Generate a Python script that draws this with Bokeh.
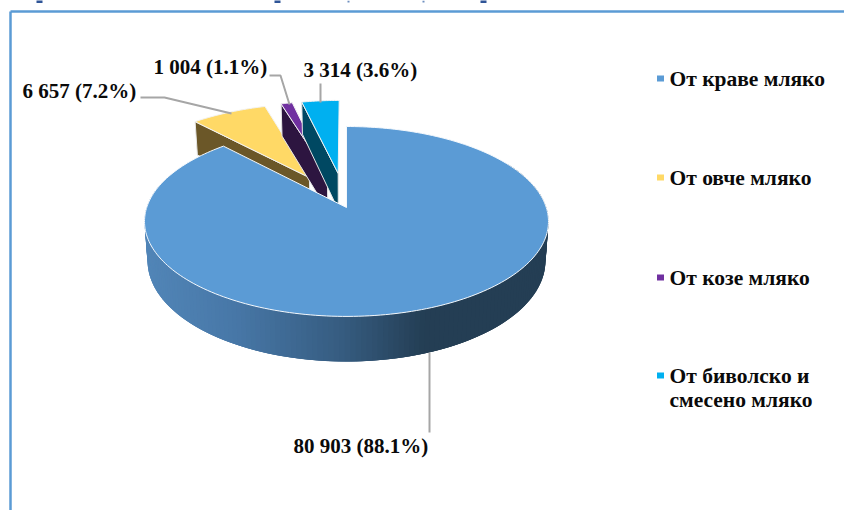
import math
from bokeh.plotting import figure
from bokeh.embed import file_html
from bokeh.resources import INLINE
from bokeh.core.properties import value

categories = ["От краве мляко", "От овче мляко", "От козе мляко", "От биволско и\nсмесено мляко"]
amounts = [80903, 6657, 1004, 3314]
shares = ["88.1%", "7.2%", "1.1%", "3.6%"]
labels = ["80 903 (88.1%)", "6 657 (7.2%)", "1 004 (1.1%)", "3 314 (3.6%)"]
top_colors = ["#5B9BD5", "#FFD966", "#7030A0", "#00B0F0"]
wall_colors = ["#2F4F6F", "#6B5728", "#2D1540", "#004862"]
explode = [0.0, 0.39, 0.39, 0.39]

# perspective pie geometry, screen pixels
OX, OY = 346.0, 207.0
C, B, K, H = 199.8, 92.9, 0.147, 38.5
SHRINK = 0.985
SERIF = value("Liberation Serif")


def project(u, v, depth=0.0):
    w = 1 + K * v
    s = SHRINK if depth else 1.0
    return OX + s * C * u / w, OY + (-B * v + depth) / w


def rim(a0, a1, off, n, depth=0.0):
    out = []
    for i in range(n + 1):
        a = math.radians(a0 + (a1 - a0) * i / n)
        out.append(project(off[0] + math.sin(a), off[1] + math.cos(a), depth))
    return out


p = figure(width=844, height=510, x_range=(0, 844), y_range=(510, 0), output_backend="svg",
           toolbar_location=None, min_border=0, outline_line_color=None)
p.axis.visible = False
p.grid.visible = False

# the cut-off title: only unreadable feet of a few letters reach the picture
p.rect([39, 277, 483], [1, 1, 1], width=6, height=3, fill_color="#2F5597", line_color=None)
p.rect([348, 423], [1, 1], width=2, height=2, fill_color="#6F8FC0", line_color=None)

# frame of the surrounding slide
p.line([10, 10], [510, 11], line_color="#5B9BD5", line_width=2.5)
p.line([10, 844], [11, 11], line_color="#5B9BD5", line_width=2.5)

total = sum(amounts)
angles = []
start = 0.0
for a in amounts:
    angles.append((start, start + 360.0 * a / total))
    start += 360.0 * a / total

offs = []
for (a0, a1), d in zip(angles, explode):
    m = math.radians((a0 + a1) / 2)
    offs.append((d * math.sin(m), d * math.cos(m)))

# small slices: side wall then top
for i in [1, 2, 3]:
    a0, a1 = angles[i]
    off = offs[i]
    o_top = project(off[0] + math.sin(math.radians(a0)), off[1] + math.cos(math.radians(a0)))
    o_bot = project(off[0] + math.sin(math.radians(a0)), off[1] + math.cos(math.radians(a0)), H)
    ap_top = project(*off)
    ap_bot = project(off[0], off[1], H)
    p.patch([o_top[0], ap_top[0], ap_bot[0], o_bot[0]], [o_top[1], ap_top[1], ap_bot[1], o_bot[1]],
            fill_color=wall_colors[i], line_color="#E6E6E6", line_width=1)
    r = rim(a0, a1, off, 24)
    xs = [ap_top[0]] + [q[0] for q in r]
    ys = [ap_top[1]] + [q[1] for q in r]
    p.patch(xs, ys, fill_color=top_colors[i], line_color="#F2F2F2", line_width=1)

# blue slice: shaded wall as overlapping strips, painted left to right
stops = [(143, (82, 134, 184)), (230, (72, 120, 168)), (340, (54, 92, 128)), (423, (36, 62, 84)), (548, (36, 62, 84))]


def shade(x):
    for (x0, c0), (x1, c1) in zip(stops, stops[1:]):
        if x <= x1:
            t = max(0.0, (x - x0) / (x1 - x0))
            return "#%02x%02x%02x" % tuple(int(c0[j] + (c1[j] - c0[j]) * t) for j in range(3))
    return "#243e54"


a0, a1 = angles[0]
N = 170
top = rim(290, 60, (0, 0), N)
bot = rim(290, 60, (0, 0), N, H)
for i in range(N):
    j = min(i + 3, N)
    xs = [top[i][0], top[j][0], bot[j][0], bot[i][0]]
    ys = [top[i][1], top[j][1], bot[j][1], bot[i][1]]
    p.patch(xs, ys, fill_color=shade(top[i][0]), line_color=None)

r = rim(a0, a1, (0, 0), 240)
p.patch([OX] + [q[0] for q in r], [OY] + [q[1] for q in r], fill_color=top_colors[0],
        line_color="#F4F8FC", line_width=1)

# leader lines
leaders_x = [[429, 429], [140, 164, 231], [269, 280, 289], [320, 320]]
leaders_y = [[352, 432], [97, 97, 113], [75, 75, 104], [83, 102]]
for lx, ly in zip(leaders_x, leaders_y):
    p.line(lx, ly, line_color="#A6A6A6", line_width=2)

# data labels
label_x = [293, 22, 153, 303]
label_y = [445, 90, 66, 69]
p.text(label_x, label_y, text=labels, text_font=SERIF, text_font_size="21px", text_font_style="bold",
       text_color="#0A0A0A", text_baseline="middle", text_align="left")

# legend
swatch_y = [78, 177, 277, 375]
p.rect([660] * 4, swatch_y, width=7, height=6, fill_color=top_colors, line_color=None)
leg_y = [78, 177, 277, 375]
for c, y in zip(categories, leg_y):
    for j, part in enumerate(c.split("\n")):
        p.text([669], [y + j * 24], text=[part], text_font=SERIF, text_font_size="21.5px", text_font_style="bold",
               text_color="#0A0A0A", text_baseline="middle", text_align="left")

open("out.html", "w").write(file_html(p, INLINE))
